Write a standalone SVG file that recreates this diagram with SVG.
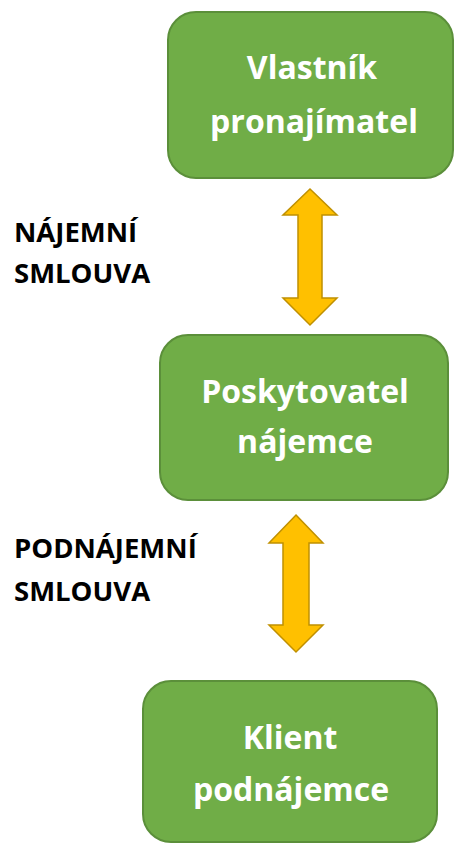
<svg xmlns="http://www.w3.org/2000/svg" width="457" height="843" viewBox="0 0 457 843">
<style>
.box{fill:#70AD47;stroke:#5B8F3A;stroke-width:2}
.bt{font-family:"Open Sans","DejaVu Sans",sans-serif;font-weight:700;font-size:32px;fill:#FFFFFF;text-anchor:middle}
.lb{font-family:"Open Sans","DejaVu Sans",sans-serif;font-weight:700;font-size:27.5px;fill:#000000}
.arr{fill:#FFC000;stroke:#C09000;stroke-width:1.5;stroke-linejoin:miter}
</style>
<rect width="457" height="843" fill="#FFFFFF"/>
<g id="connectors">
<polygon class="arr" points="310,189 337,215 322,215 322,298 337,298 310,325 283,298 298,298 298,215 283,215"/>
<polygon class="arr" points="296,515 323,543 309,543 309,625 323,625 296,652 269,625 283,625 283,543 269,543"/>
</g>
<g id="label1">
<text class="lb" x="14" y="242">NÁJEMNÍ</text>
<text class="lb" x="14" y="283">SMLOUVA</text>
</g>
<g id="label2">
<text class="lb" x="14" y="558">PODNÁJEMNÍ</text>
<text class="lb" x="14" y="601">SMLOUVA</text>
</g>
<g id="node1">
<rect class="box" x="168" y="12" width="285" height="166" rx="28" ry="28"/>
<text class="bt" x="312" y="79">Vlastník</text>
<text class="bt" x="314" y="133">pronajímatel</text>
</g>
<g id="node2">
<rect class="box" x="160" y="335" width="288" height="165" rx="28" ry="28"/>
<text class="bt" x="305" y="403">Poskytovatel</text>
<text class="bt" x="305" y="453">nájemce</text>
</g>
<g id="node3">
<rect class="box" x="143" y="681" width="294" height="161" rx="28" ry="28"/>
<text class="bt" x="290" y="749">Klient</text>
<text class="bt" x="291" y="801">podnájemce</text>
</g>
</svg>
